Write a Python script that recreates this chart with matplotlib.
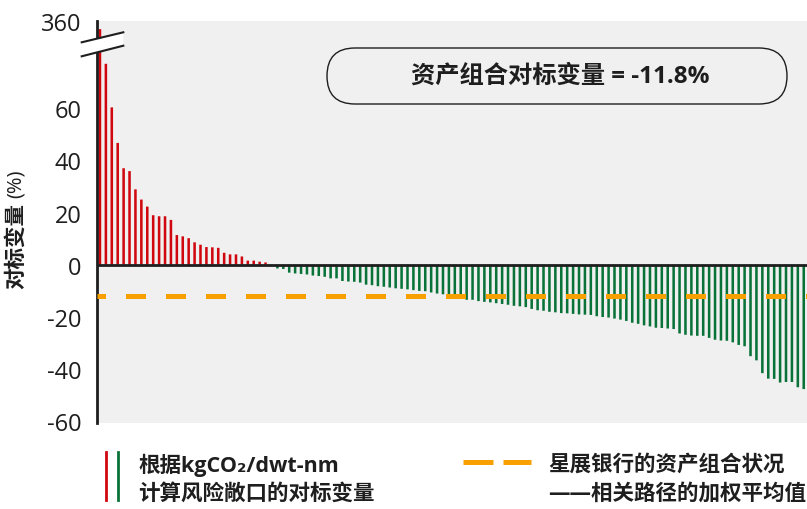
import numpy as np
import matplotlib
matplotlib.use('Agg')
import matplotlib.pyplot as plt
from matplotlib.patches import Polygon, FancyBboxPatch
from matplotlib.lines import Line2D

# 对标变量 (%), 按从大到小排列
values = [295, 77, 60.3, 46.7, 37.0, 35.9, 28.9, 25.0, 22.3, 19.0,
          18.6, 18.6, 17.2, 11.4, 10.9, 10.2, 8.6, 7.7, 6.8, 6.7,
          6.5, 4.6, 4.0, 4.0, 3.2, 1.6, 1.6, 1.2, 0.9, -0.2,
          -1.4, -1.6, -3.0, -3.3, -3.5, -3.7, -4.1, -4.3, -4.6, -5.2,
          -5.2, -6.2, -6.4, -6.5, -6.8, -7.6, -7.8, -8.2, -8.4, -8.7,
          -9.0, -9.2, -9.4, -9.7, -10.0, -10.1, -10.6, -11.0, -11.3, -11.4,
          -11.7, -13.0, -13.4, -13.4, -13.9, -14.2, -14.4, -14.7, -15.0, -15.3,
          -15.7, -15.9, -16.2, -16.9, -17.4, -17.6, -18.0, -18.2, -18.5, -18.6,
          -18.8, -19.0, -19.1, -19.2, -19.7, -20.0, -20.2, -20.6, -21.0, -21.5,
          -22.2, -22.6, -23.2, -23.6, -24.1, -24.2, -24.4, -24.6, -26.3, -26.8,
          -27.1, -27.2, -27.2, -28.0, -28.7, -29.0, -29.1, -29.7, -30.7, -31.2,
          -35.0, -36.6, -41.5, -43.6, -43.7, -45.1, -44.9, -44.9, -46.9, -47.6]
portfolio_avg = -11.8
yticks = [-60, -40, -20, 0, 20, 40, 60, 360]

RED = '#d0070f'
GREEN = '#087238'
ORANGE = '#f7a000'
DARK = '#1e1e1e'
FONT = ['Open Sans', 'Noto Sans CJK SC', 'DejaVu Sans']
CJK = ['Noto Sans CJK SC', 'DejaVu Sans']

# 断轴: 80 以上压缩
BREAK = 80
S = 13.4 / 280


def fwd(v):
    v = np.asarray(v, dtype=float)
    return np.where(v <= BREAK, v, BREAK + (v - BREAK) * S)


def inv(u):
    u = np.asarray(u, dtype=float)
    return np.where(u <= BREAK, u, BREAK + (u - BREAK) / S)


W, H = 807, 510
fig = plt.figure(figsize=(W / 100, H / 100), dpi=100)


def fx(px):
    return px / W


def fy(py):
    return 1 - py / H


ax = fig.add_axes([fx(97), fy(424), fx(807) - fx(97), fy(22) - fy(424)])
ax.set_facecolor('#f0f0f0')
ax.set_yscale('function', functions=(fwd, inv))

x = np.arange(len(values))
colors = [RED if v > 0 else GREEN for v in values]
bars = ax.bar(x, values, width=0.43, color=colors, zorder=2)
for b in bars:
    b.set_snap(False)

ax.axhline(0, color=DARK, lw=2, zorder=4)
ax.axhline(portfolio_avg, color=ORANGE, lw=3.6, linestyle=(2.3, (4, 4)), zorder=3)

ax.set_xlim(-0.5, len(values) - 0.45)
ax.set_ylim(-60.6, 360)
ax.set_yticks(yticks)
ax.set_yticklabels([str(t) for t in yticks], family=FONT, fontsize=17, color=DARK)
ax.minorticks_off()
ax.tick_params(axis='y', length=0, pad=11)
ax.set_xticks([])
for s in ['top', 'right', 'bottom']:
    ax.spines[s].set_visible(False)
ax.spines['left'].set_color(DARK)
ax.spines['left'].set_linewidth(2)

# 断轴标记
pts = [(81.7, 43.3), (123.3, 33.3), (123.3, 46.7), (81.7, 57.3)]
poly = Polygon([(fx(a), fy(b)) for a, b in pts], closed=True, facecolor='white',
               edgecolor='none', transform=fig.transFigure, clip_on=False, zorder=6)
ax.add_patch(poly)
for (a1, b1), (a2, b2) in [(pts[0], pts[1]), (pts[3], pts[2])]:
    ax.add_line(Line2D([fx(a1), fx(a2)], [fy(b1), fy(b2)], color=DARK, lw=1.5,
                       transform=fig.transFigure, clip_on=False, zorder=7))

# y 轴标题
fig.text(fx(16), fy(246), '对标变量', rotation=90, ha='center', va='center',
         family=CJK, fontsize=15.5, fontweight='bold', color=DARK)
fig.text(fx(16), fy(184), '(%)', rotation=90, ha='center', va='center',
         family=FONT, fontsize=14.5, color=DARK)

# 注释框
box = FancyBboxPatch((3.27, 4.05), 4.60, 0.56, boxstyle='round,pad=0,rounding_size=0.28',
                     transform=fig.dpi_scale_trans, facecolor='none', edgecolor=DARK, lw=1.0)
fig.patches.append(box)
fig.text(fx(560), fy(77), '资产组合对标变量 = -11.8%', ha='center', va='center',
         family=FONT, fontsize=17.5, fontweight='bold', color=DARK)

# 图例
fig.add_artist(Line2D([fx(106), fx(106)], [fy(453), fy(501)], color=RED, lw=2))
fig.add_artist(Line2D([fx(118), fx(118)], [fy(453), fy(501)], color=GREEN, lw=2))
fig.text(fx(138), fy(465), '根据kgCO₂/dwt-nm', ha='left', va='center',
         family=FONT, fontsize=15.5, fontweight='bold', color=DARK)
fig.text(fx(138), fy(494), '计算风险敞口的对标变量', ha='left', va='center',
         family=FONT, fontsize=15.5, fontweight='bold', color=DARK)
for a, b in [(463, 493), (503, 531)]:
    fig.add_artist(Line2D([fx(a), fx(b)], [fy(463), fy(463)], color=ORANGE, lw=3.6,
                          solid_capstyle='butt'))
fig.text(fx(548), fy(465), '星展银行的资产组合状况', ha='left', va='center',
         family=FONT, fontsize=15.5, fontweight='bold', color=DARK)
fig.text(fx(548), fy(494), '——相关路径的加权平均值', ha='left', va='center',
         family=FONT, fontsize=15.5, fontweight='bold', color=DARK)

fig.savefig('out.png', dpi=100)
